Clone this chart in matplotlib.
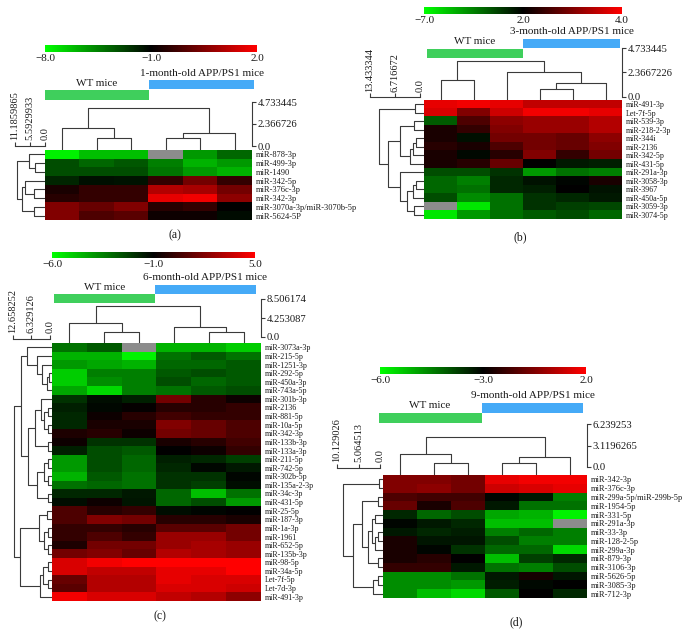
import numpy as np
import matplotlib
matplotlib.use('Agg')
import matplotlib.pyplot as plt
from matplotlib.colors import LinearSegmentedColormap, TwoSlopeNorm
from matplotlib.cm import ScalarMappable
from matplotlib.patches import Rectangle

plt.rcParams['font.family'] = ['Liberation Serif', 'DejaVu Serif']

nan = np.nan

# ---------------- Panel (a) ----------------
a_rows = ['miR-878-3p', 'miR-499-3p', 'miR-1490', 'miR-342-5p', 'miR-376c-3p',
          'miR-342-3p', 'miR-3070a-3p/miR-3070b-5p', 'miR-5624-5P']
a_values = [
    [-7.6, -6.2, -6.2, nan, -5.2, -3.8],
    [-3.1, -3.8, -3.4, -4.5, -5.9, -5.2],
    [-3.1, -3.1, -3.1, -4.2, -5.2, -5.9],
    [-2.0, -1.4, -1.5, -0.4, 0.35, -0.4],
    [-0.7, -0.4, -0.4, 1.1, 0.95, 0.35],
    [-0.55, -0.4, -0.4, 1.7, 1.85, 0.65],
    [0.5, 0.2, 0.5, -0.55, -0.4, -1.0],
    [0.5, -0.1, 0.05, -0.85, -0.85, -1.3],
]
a_scale = [-8.0, -1.0, 2.0]
a_group = '1-month-old APP/PS1 mice'
a_col_link = [(1, 2, 0.83), (0, 6, 1.9), (3, 4, 0.83), (8, 5, 1.44), (7, 9, 4.08)]
a_col_ticks = [4.733445, 2.366726, 0.0]
a_row_link = [(1, 2, 3.8), (0, 8, 6.1), (4, 5, 4.1), (3, 10, 7.6), (6, 7, 4.1),
              (11, 12, 8.5), (9, 13, 10.6)]
a_row_ticks = [11.1859865, 5.5929933, 0.0]

# ---------------- Panel (b) ----------------
b_rows = ['miR-491-3p', 'Let-7f-5p', 'miR-539-3p', 'miR-218-2-3p', 'miR-344i',
          'miR-2136', 'miR-342-5p', 'miR-431-5p', 'miR-291a-3p', 'miR-3058-3p',
          'miR-3967', 'miR-450a-5p', 'miR-3059-3p', 'miR-3074-5p']
b_values = [
    [3.8, 3.9, 3.8, 3.5, 3.5, 3.5],
    [3.7, 3.0, 3.6, 3.9, 3.9, 3.8],
    [-1.2, 2.6, 3.1, 3.2, 3.2, 3.4],
    [2.2, 2.4, 3.0, 3.2, 3.2, 3.4],
    [2.2, 1.5, 2.9, 2.9, 2.8, 3.1],
    [2.3, 2.2, 2.6, 2.9, 2.8, 3.0],
    [2.2, 1.7, 2.3, 3.0, 2.4, 2.9],
    [2.2, 2.3, 2.8, 2.0, 1.1, 0.9],
    [-0.7, -0.7, 0.2, -3.4, -2.0, -2.5],
    [-1.6, -2.5, 0.65, 1.3, 1.8, 2.2],
    [-1.6, -2.0, 0.65, 0.9, 2.0, 1.3],
    [-0.7, -2.9, -2.0, 0.2, 0.65, 1.1],
    [nan, -6.1, -2.0, 0.2, -0.25, -0.5],
    [-6.1, -3.4, -2.0, -1.2, -0.7, -1.6],
]
b_scale = [-7.0, 2.0, 4.0]
b_group = '3-month-old APP/PS1 mice'
b_col_link = [(0, 1, 1.68), (3, 4, 0.8), (7, 5, 1.35), (2, 8, 2.42), (6, 9, 3.45)]
b_col_ticks = [4.733445, 2.3667226, 0.0]
b_row_link = [(0, 1, 1.3), (2, 3, 1.5), (4, 5, 1.1), (16, 6, 1.8), (17, 7, 2.6),
              (15, 18, 5.5), (9, 10, 1.2), (20, 11, 2.0), (12, 13, 1.6), (21, 22, 3.4),
              (8, 23, 5.3), (19, 24, 8.6), (14, 25, 11.0)]
b_row_ticks = [13.433344, 6.716672, 0.0]

# ---------------- Panel (c) ----------------
c_rows = ['miR-3073a-3p', 'miR-215-5p', 'miR-1251-3p', 'miR-292-5p', 'miR-450a-3p',
          'miR-743a-5p', 'miR-301b-3p', 'miR-2136', 'miR-881-5p', 'miR-10a-5p',
          'miR-342-3p', 'miR-133b-3p', 'miR-133a-3p', 'miR-211-5p', 'miR-742-5p',
          'miR-302b-5p', 'miR-135a-2-3p', 'miR-34c-3p', 'miR-431-5p', 'miR-25-5p',
          'miR-187-3p', 'miR-1a-3p', 'miR-1961', 'miR-652-5p', 'miR-135b-3p',
          'miR-98-5p', 'miR-34a-5p', 'Let-7f-5p', 'Let-7d-3p', 'miR-491-3p']
c_values = [
    [-3.25, -2.75, nan, -4.5, -4.5, -5.0],
    [-4.5, -4.5, -5.75, -3.25, -2.75, -3.25],
    [-4.0, -4.25, -4.5, -3.0, -3.0, -2.75],
    [-5.0, -3.5, -3.5, -2.75, -2.5, -2.75],
    [-5.0, -3.75, -3.5, -2.5, -3.0, -2.75],
    [-4.25, -5.25, -3.5, -3.25, -2.75, -2.5],
    [-2.0, -1.25, -1.6, 1.7, -0.1, -0.7],
    [-1.6, -1.15, -0.9, -0.1, -0.1, 0.2],
    [-1.75, -0.7, -0.1, 0.5, 0.2, 0.2],
    [-1.75, -0.4, -0.4, 2.0, 1.4, 0.8],
    [-0.3, -0.1, -0.7, 1.7, 1.4, 0.8],
    [-0.7, -2.0, -2.0, -0.4, -0.1, 0.5],
    [-1.6, -2.5, -2.75, -1.0, -0.7, 0.2],
    [-4.0, -2.5, -3.0, -1.6, -1.75, -2.25],
    [-4.0, -2.5, -3.0, -1.75, -1.15, -1.5],
    [-4.5, -2.75, -3.25, -2.0, -2.0, -1.1],
    [-3.25, -3.0, -3.25, -2.0, -2.25, -1.25],
    [-1.75, -1.75, -1.5, -3.0, -4.75, -3.25],
    [-1.25, -0.7, -1.4, -3.0, -2.5, -4.0],
    [0.8, -0.1, 0.2, -1.25, -1.1, -1.0],
    [0.8, 2.0, 1.7, -0.1, -0.1, -0.4],
    [0.2, 0.2, -0.1, 1.1, 1.1, 1.7],
    [0.2, 0.8, 0.2, 2.6, 2.6, 1.7],
    [-0.3, 1.7, 1.7, 2.6, 2.9, 2.6],
    [1.7, 2.0, 1.4, 3.2, 2.9, 2.6],
    [4.1, 4.7, 5.0, 5.0, 5.0, 5.0],
    [4.1, 3.5, 3.5, 4.4, 4.4, 5.0],
    [1.4, 3.2, 3.2, 4.4, 4.1, 4.1],
    [1.1, 3.2, 3.2, 4.1, 4.1, 3.8],
    [4.7, 4.1, 4.1, 3.5, 3.2, 2.3],
]
c_scale = [-6.0, -1.0, 5.0]
c_group = '6-month-old APP/PS1 mice'
c_col_link = [(1, 2, 1.14), (0, 6, 3.2), (4, 5, 1.14), (3, 8, 2.3), (7, 9, 7.0)]
c_col_ticks = [8.506174, 4.253087, 0.0]
c_row_link = [(3, 4, 0.4), (30, 5, 1.0), (2, 31, 2.6), (1, 32, 4.6), (0, 33, 8.0),
              (7, 8, 0.6), (9, 10, 0.6), (35, 36, 2.0), (6, 37, 3.2), (11, 12, 0.7),
              (38, 39, 5.0), (13, 14, 0.6), (15, 16, 0.6), (41, 42, 2.2), (17, 18, 0.8),
              (43, 44, 4.5), (40, 45, 7.5), (34, 46, 10.0),
              (19, 20, 1.0), (21, 22, 0.6), (23, 24, 0.6), (49, 50, 2.0), (48, 51, 3.6),
              (25, 26, 0.6), (27, 28, 0.6), (53, 54, 2.3), (55, 29, 3.5), (52, 56, 10.4),
              (47, 57, 12.2)]
c_row_ticks = [12.658252, 6.329126, 0.0]

# ---------------- Panel (d) ----------------
d_rows = ['miR-342-3p', 'miR-376c-3p', 'miR-299a-5p/miR-299b-5p', 'miR-1954-5p',
          'miR-331-5p', 'miR-291a-3p', 'miR-33-3p', 'miR-128-2-5p', 'miR-299a-3p',
          'miR-879-3p', 'miR-3106-3p', 'miR-5626-5p', 'miR-3085-3p', 'miR-712-3p']
d_values = [
    [-0.5, -0.5, -0.75, 1.5, 1.75, 1.75],
    [-0.5, -0.25, -0.75, 1.0, 1.25, 1.5],
    [-1.5, -1.75, -1.75, -3.05, -3.3, -4.5],
    [-1.0, -2.5, -1.5, -3.3, -4.35, -4.35],
    [-3.45, -4.2, -3.9, -4.95, -5.1, -5.85],
    [-3.05, -3.3, -3.45, -5.25, -5.25, nan],
    [-3.3, -3.45, -3.35, -4.5, -4.2, -4.5],
    [-2.5, -3.25, -3.25, -3.9, -4.5, -4.5],
    [-2.5, -3.05, -3.6, -4.2, -4.2, -5.55],
    [-2.5, -2.25, -3.0, -5.25, -3.75, -3.45],
    [-2.0, -2.0, -3.3, -4.35, -4.5, -3.9],
    [-4.65, -4.65, -4.35, -3.3, -2.6, -3.25],
    [-4.65, -4.65, -4.8, -3.35, -3.1, -3.0],
    [-4.65, -5.25, -5.55, -4.05, -3.0, -3.45],
]
d_scale = [-6.0, -3.0, 2.0]
d_group = '9-month-old APP/PS1 mice'
d_col_link = [(1, 2, 0.6), (0, 6, 1.9), (3, 4, 0.6), (8, 5, 1.45), (7, 9, 4.4)]
d_col_ticks = [6.239253, 3.1196265, 0.0]
d_row_link = [(0, 1, 0.3), (2, 3, 0.5), (4, 5, 1.2), (6, 7, 0.5), (17, 8, 1.2),
              (16, 18, 2.0), (9, 10, 0.5), (19, 20, 2.8), (15, 21, 4.3), (11, 12, 0.5),
              (23, 13, 1.6), (22, 24, 6.3), (14, 25, 8.7)]
d_row_ticks = [10.129026, 5.064513, 0.0]

wt_label = 'WT mice'
captions = ['(a)', '(b)', '(c)', '(d)']

# ---------------- drawing ----------------
W, H = 686, 638
fig = plt.figure(figsize=(W / 100, H / 100), dpi=100)
fig.patch.set_facecolor('white')

TXT = '#1a1a1a'
LINE = '#3a3a3a'
GREEN_BAR = '#3fcf5c'
BLUE_BAR = '#45aaf7'

cmap = LinearSegmentedColormap.from_list('gkr', [(0, 1, 0), (0, 0, 0), (1, 0, 0)])
cmap.set_bad('#8c8c8c')


def ax_px(x0, y0, x1, y1):
    return fig.add_axes([x0 / W, 1 - y1 / H, (x1 - x0) / W, (y1 - y0) / H])


def link_segments(link, n, base):
    pos = {i: float(i) for i in range(n)}
    hgt = {i: base for i in range(n)}
    segs = []
    for k, (l, r, h) in enumerate(link):
        segs.append(([pos[l], pos[l], pos[r], pos[r]], [hgt[l], h, h, hgt[r]]))
        pos[n + k] = (pos[l] + pos[r]) / 2
        hgt[n + k] = h
    return segs


def fmt_minus(v):
    return f'{v:.1f}'.replace('-', '\u2212')


def draw_panel(g, rows, values, scale, group, col_link, col_ticks, row_link, row_ticks, caption):
    data = np.array(values, dtype=float)
    n_r, n_c = data.shape
    hx0, hy0, hx1, hy1 = g['heat']

    # row dendrogram (left)
    rtop, rz0 = g['row_axis']
    rmax = row_ticks[0]
    unit = (rz0 - rtop) / rmax
    rlow = -(hx0 - rz0) / unit
    axr = ax_px(rtop, hy0, hx0, hy1)
    for xs, ys in link_segments(row_link, n_r, rlow):
        axr.plot(ys, xs, color=LINE, lw=0.8, solid_capstyle='butt')
    axr.set_xlim(rmax, rlow)
    axr.set_ylim(n_r - 0.5, -0.5)
    axr.patch.set_alpha(0)
    for s in ['left', 'right', 'bottom']:
        axr.spines[s].set_visible(False)
    axr.spines['top'].set_position(('outward', g['row_out']))
    axr.spines['top'].set_bounds(0, rmax)
    axr.spines['top'].set_linewidth(0.8)
    axr.spines['top'].set_color(LINE)
    axr.xaxis.tick_top()
    axr.set_xticks(row_ticks)
    axr.set_xticklabels([str(t) for t in row_ticks], rotation=90, fontsize=7.5, color=TXT)
    axr.tick_params(axis='x', direction='out', length=3, width=0.8, pad=1, color=LINE)
    axr.set_yticks([])

    # column dendrogram (top)
    ctop, cz0 = g['col_axis']
    cmax = col_ticks[0]
    cunit = (cz0 - ctop) / cmax
    clow = -(hy0 - cz0) / cunit
    axc = ax_px(hx0, ctop, hx1, hy0)
    for xs, ys in link_segments(col_link, n_c, clow):
        axc.plot(xs, ys, color=LINE, lw=0.8, solid_capstyle='butt')
    axc.set_xlim(-0.5, n_c - 0.5)
    axc.set_ylim(clow, cmax)
    axc.patch.set_alpha(0)
    for s in ['left', 'top', 'bottom']:
        axc.spines[s].set_visible(False)
    axc.spines['right'].set_bounds(0, cmax)
    axc.spines['right'].set_linewidth(0.8)
    axc.spines['right'].set_color(LINE)
    axc.yaxis.tick_right()
    axc.set_yticks(col_ticks)
    axc.set_yticklabels([str(t) for t in col_ticks], fontsize=7.7, color=TXT)
    axc.tick_params(axis='y', direction='out', length=3, width=0.8, pad=1, color=LINE)
    axc.set_xticks([])

    # heatmap
    norm = TwoSlopeNorm(vmin=scale[0], vcenter=scale[1], vmax=scale[2])
    axh = ax_px(hx0, hy0, hx1, hy1)
    axh.imshow(np.ma.masked_invalid(data), cmap=cmap, norm=norm, aspect='auto',
               interpolation='nearest')
    axh.set_xticks([])
    axh.yaxis.tick_right()
    axh.set_yticks(range(n_r))
    axh.set_yticklabels(rows, fontsize=g['lab_fs'], color=TXT)
    axh.tick_params(axis='y', length=0, pad=3)
    for s in axh.spines.values():
        s.set_visible(False)

    # colour bar
    cx0, cy0, cx1, cy1 = g['cbar']
    cax = ax_px(cx0, cy0, cx1, cy1)
    cb = fig.colorbar(ScalarMappable(norm=norm, cmap=cmap), cax=cax, orientation='horizontal')
    cb.outline.set_visible(False)
    cb.set_ticks(scale, labels=[fmt_minus(v) for v in scale])
    cax.tick_params(axis='x', length=0, pad=1.5, labelsize=8, labelcolor=TXT)

    # group bars
    bx0, by0, bx1, by1 = g['blue']
    axb = ax_px(bx0, by0, bx1, by1)
    axb.set_facecolor(BLUE_BAR)
    axb.set_xticks([]); axb.set_yticks([])
    for s in axb.spines.values():
        s.set_visible(False)
    gx0, gy0, gx1, gy1 = g['green']
    axg = ax_px(gx0, gy0, gx1, gy1)
    axg.set_facecolor(GREEN_BAR)
    axg.set_xticks([]); axg.set_yticks([])
    for s in axg.spines.values():
        s.set_visible(False)

    fig.text(g['app'][0] / W, 1 - g['app'][1] / H, group, ha='center', va='center',
             fontsize=8, color=TXT)
    fig.text(g['wt'][0] / W, 1 - g['wt'][1] / H, wt_label, ha='center', va='center',
             fontsize=8, color=TXT)
    fig.text(g['cap'][0] / W, 1 - g['cap'][1] / H, caption, ha='center', va='center',
             fontsize=8.5, color=TXT)


geo_a = dict(heat=(45, 150, 252, 220), row_axis=(15, 45), row_out=3, col_axis=(102, 146),
             cbar=(45, 45, 257, 52), blue=(149, 80, 254, 89), green=(45, 90, 149, 100),
             app=(202, 73), wt=(97, 83), cap=(175, 235), lab_fs=6)
geo_b = dict(heat=(424, 100, 622, 219), row_axis=(370, 420), row_out=2, col_axis=(48, 97),
             cbar=(424, 7, 622, 14), blue=(523, 39, 620, 48), green=(427, 49, 523, 58),
             app=(572, 32), wt=(475, 42), cap=(520, 237), lab_fs=5.8)
geo_c = dict(heat=(52, 343, 261, 601), row_axis=(13, 50), row_out=3, col_axis=(299, 337),
             cbar=(52, 252, 255, 258), blue=(155, 285, 256, 294), green=(54, 294, 155, 303),
             app=(205, 278), wt=(105, 287), cap=(160, 616), lab_fs=5.8)
geo_d = dict(heat=(383, 475, 587, 598), row_axis=(337, 380), row_out=5, col_axis=(424, 467),
             cbar=(380, 367, 586, 374), blue=(482, 403, 583, 413), green=(379, 413, 482, 423),
             app=(533, 395), wt=(430, 405), cap=(516, 622), lab_fs=6)

draw_panel(geo_a, a_rows, a_values, a_scale, a_group, a_col_link, a_col_ticks,
           a_row_link, a_row_ticks, captions[0])
draw_panel(geo_b, b_rows, b_values, b_scale, b_group, b_col_link, b_col_ticks,
           b_row_link, b_row_ticks, captions[1])
draw_panel(geo_c, c_rows, c_values, c_scale, c_group, c_col_link, c_col_ticks,
           c_row_link, c_row_ticks, captions[2])
draw_panel(geo_d, d_rows, d_values, d_scale, d_group, d_col_link, d_col_ticks,
           d_row_link, d_row_ticks, captions[3])

fig.savefig('out.png', dpi=100, facecolor='white')
